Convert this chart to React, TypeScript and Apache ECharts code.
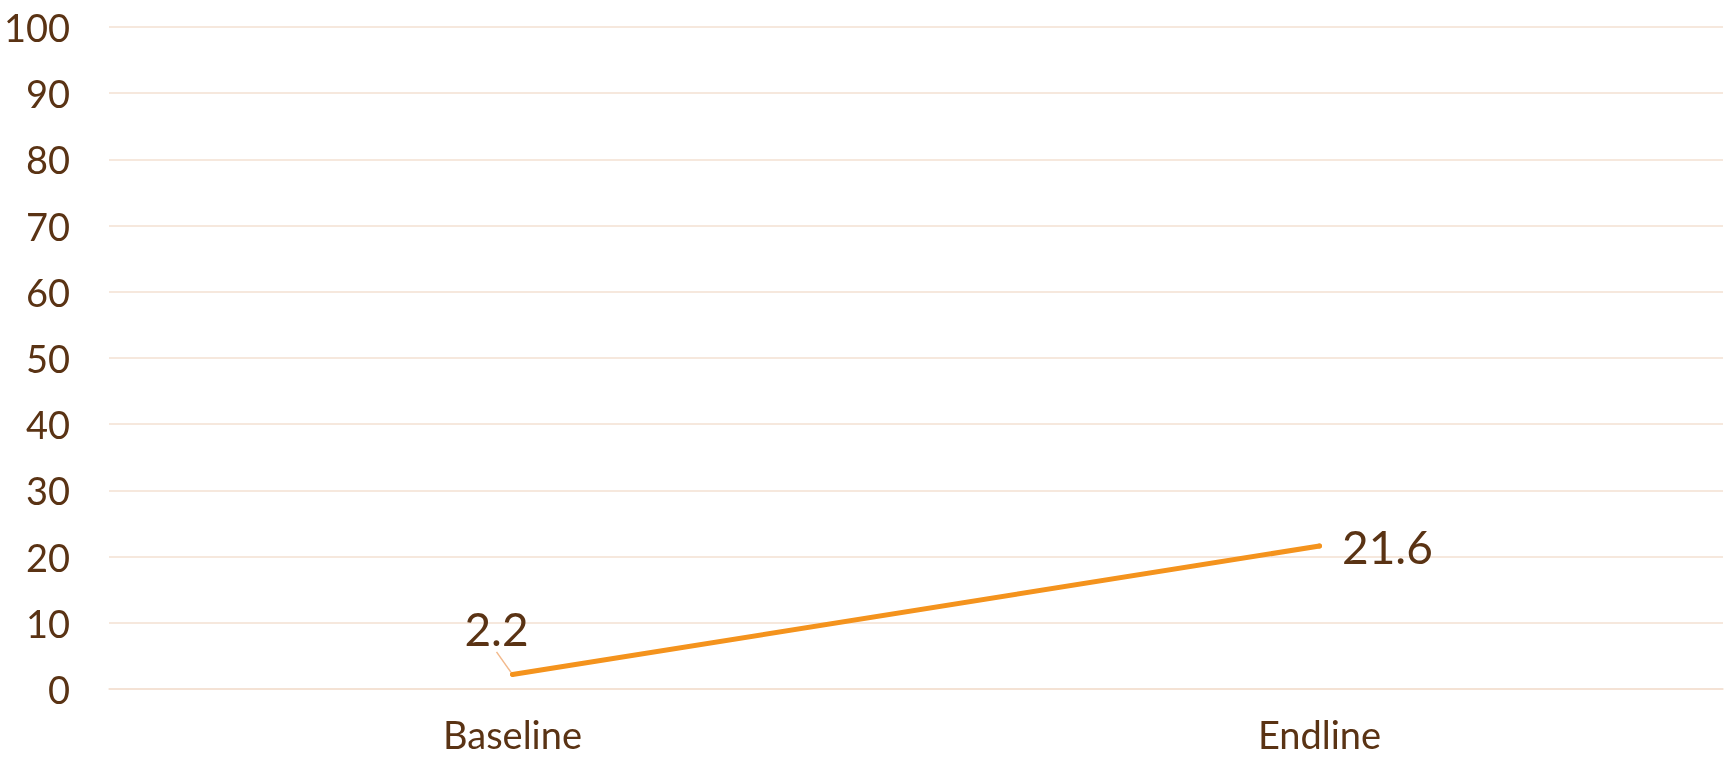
import React, { useEffect, useRef } from "react";
import * as echarts from "echarts";

const categories = ["Baseline", "Endline"];
const values = [2.2, 21.6];
const yTicks = { min: 0, max: 100, interval: 10 };

const TEXT = "#5a3314";
const GRID = "#f3e0d2";
const LINE = "#f4931d";
const FONT = "Lato, 'Open Sans', sans-serif";

export default function App() {
  const ref = useRef<HTMLDivElement>(null);

  useEffect(() => {
    if (!ref.current) return;
    const chart = echarts.init(ref.current, null, { renderer: "svg" });
    chart.setOption({
      animation: false,
      grid: { left: 109, right: 4, top: 27, bottom: 70, containLabel: false },
      xAxis: {
        type: "category",
        data: categories,
        boundaryGap: true,
        axisLine: { show: true, lineStyle: { color: GRID, width: 1.5 } },
        axisTick: { show: false },
        axisLabel: { color: TEXT, fontSize: 38, fontFamily: FONT, margin: 26 },
      },
      yAxis: {
        type: "value",
        min: yTicks.min,
        max: yTicks.max,
        interval: yTicks.interval,
        axisLine: { show: false },
        axisTick: { show: false },
        splitLine: { show: true, lineStyle: { color: GRID, width: 1.5 } },
        axisLabel: { color: TEXT, fontSize: 38, fontFamily: FONT, margin: 39 },
      },
      series: [
        {
          type: "line",
          data: [
            {
              value: values[0],
              label: { position: "top", distance: 4 },
              labelLine: { show: true, lineStyle: { color: "#f2b98c", width: 1.5 } },
            },
            {
              value: values[1],
              label: { position: "right", distance: 20 },
            },
          ],
          symbol: "circle",
          symbolSize: 5,
          itemStyle: { color: LINE },
          lineStyle: { color: LINE, width: 5, cap: "round" },
          label: {
            show: true,
            color: TEXT,
            fontSize: 46,
            fontFamily: FONT,
          },
          labelLayout: (params: any) =>
            params.dataIndex === 0 ? { dx: -16, dy: -16 } : {},
        },
      ],
    });
    return () => chart.dispose();
  }, []);

  return (
    <div
      ref={ref}
      style={{ position: "fixed", left: 0, top: 0, width: 1727, height: 759 }}
    />
  );
}
